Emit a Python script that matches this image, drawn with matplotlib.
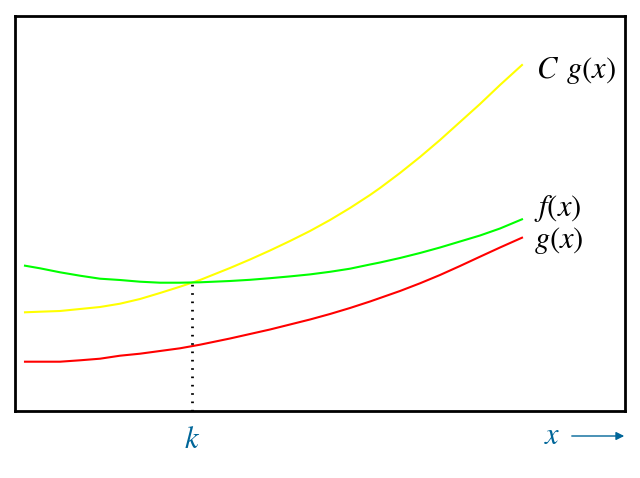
import numpy as np
import matplotlib
matplotlib.use("Agg")
import matplotlib.pyplot as plt

matplotlib.rcParams['mathtext.fontset'] = 'stix'
matplotlib.rcParams['font.family'] = 'STIXGeneral'

# positions along x (arbitrary units)
xs = [10, 25, 45, 65, 85, 105, 125, 145, 165, 185, 215, 235, 255, 275, 295,
      315, 335, 355, 365, 385, 405, 425, 445, 465, 485, 507]
# heights above the bottom frame
cg = [98.7, 99.3, 100, 102, 104, 107.3, 112, 118, 124.3, 131, 143, 151.5, 160.5,
      170, 180, 191, 203, 216, 223, 238, 254, 271, 289, 307, 326, 346]
fx = [145.3, 142.7, 138.7, 135.3, 132.3, 131, 129.3, 128.3, 128.3, 128.7, 130, 131.2, 132.8,
      134.6, 136.6, 139.2, 142.3, 146.5, 148.5, 153, 158, 163.5, 169.5, 175.5, 182.5, 191.7]
gx = [49.3, 49.3, 49.3, 50.7, 52.3, 55.3, 57.3, 60, 62.7, 66.3, 72.5, 77, 81.5,
      86.5, 91.5, 97, 103, 109.5, 113, 120, 127.7, 136, 145, 154.3, 163.5, 173.3]
k_pos = 177
k_height = 128
blue = "#006699"

fig = plt.figure(figsize=(6.4, 4.78), dpi=100)
ax = fig.add_axes([15/640, 67/478, 610/640, 395/478])
ax.set_xlim(0, 610)
ax.set_ylim(0, 395)
ax.set_xticks([])
ax.set_yticks([])
for s in ax.spines.values():
    s.set_linewidth(2)

ax.plot(xs, cg, color="#FFFF00", lw=1.5)
ax.plot(xs, fx, color="#00FF00", lw=1.5)
ax.plot(xs, gx, color="#FF0000", lw=1.5)
ax.plot([k_pos, k_pos], [0, k_height], color="black", lw=2, linestyle=(0, (0.6, 2.4)))

fs = 22
ax.annotate(r"$C\;\,g(x)$", (xs[-1], cg[-1]), xytext=(10, -4), textcoords="offset points",
            fontsize=fs, va="center", ha="left")
ax.annotate(r"$f(x)$", (xs[-1], fx[-1]), xytext=(9, 8), textcoords="offset points",
            fontsize=fs, va="center", ha="left")
ax.annotate(r"$g(x)$", (xs[-1], gx[-1]), xytext=(9, -2), textcoords="offset points",
            fontsize=fs, va="center", ha="left")

ax.annotate(r"$k$", (k_pos, 0), xytext=(0, -22), textcoords="offset points",
            fontsize=fs, ha="center", va="center", color=blue, annotation_clip=False)
ax.annotate(r"$x$", (537, 0), xytext=(0, -19), textcoords="offset points",
            fontsize=fs, ha="center", va="center", color=blue, annotation_clip=False)
ax.annotate("", xy=(612, -25), xytext=(554, -25), xycoords="data",
            arrowprops=dict(arrowstyle="-|>", color=blue, lw=1, mutation_scale=12),
            annotation_clip=False)

fig.savefig("out.png", dpi=100)
